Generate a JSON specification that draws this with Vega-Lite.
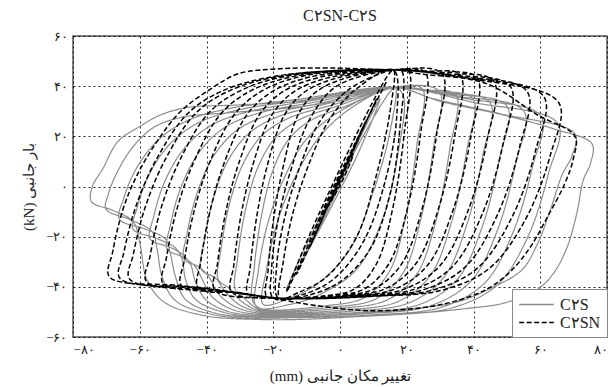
{
"$schema": "https://vega.github.io/schema/vega-lite/v6.json",
"width": 534, "height": 301,
"autosize": {"type": "none"},
"padding": {"left": 73, "top": 36, "right": 4, "bottom": 50},
"background": "white",
"title": {"text": "C۲SN-C۲S", "font": "Liberation Serif", "fontSize": 16, "fontWeight": "normal", "color": "#222", "offset": 6},
"config": {
  "view": {"stroke": "#555", "strokeWidth": 1.5},
  "axis": {"grid": true, "gridColor": "#000", "gridDash": [2, 3], "gridWidth": 1, "gridOpacity": 0.85, "domain": false, "ticks": false,
    "labelFont": "Liberation Serif", "labelFontSize": 13, "labelColor": "#222",
    "titleFont": "Liberation Serif", "titleFontSize": 15, "titleFontWeight": "normal", "titleColor": "#222"},
  "legend": {"title": null, "orient": "bottom-right", "offset": 0, "padding": 6, "strokeColor": "#888", "fillColor": "white",
    "labelFont": "Liberation Serif", "labelFontSize": 16, "labelColor": "#222", "symbolType": "M-2,0H2", "symbolSize": 300,
    "symbolStrokeWidth": 1.5, "rowPadding": 0, "symbolOffset": 9, "labelOffset": 14}
},
"layer": [
{
"data": {"values": [
{"x":-1,"y":1},{"x":4,"y":15},{"x":1,"y":4},{"x":-6,"y":-13},{"x":-2,"y":-2},{"x":8,"y":27},{"x":2.5,"y":8},{"x":-11,"y":-29},{"x":-4,"y":-8},{"x":12,"y":35},{"x":5,"y":12},{"x":-16,"y":-41},{"x":-7,"y":-15},{"x":16.5,"y":39.5},
{"x":15,"y":22},{"x":10,"y":-2},{"x":3,"y":-25},{"x":-7,"y":-39},{"x":-16,"y":-45},{"x":-23,"y":-47},{"x":-22,"y":-33},{"x":-18.5,"y":-13},{"x":-13,"y":5},{"x":-6,"y":20},{"x":3,"y":31},{"x":16.5,"y":39.5},
{"x":19,"y":36},{"x":17.5,"y":14},{"x":13,"y":-12},{"x":5,"y":-33},{"x":-6,"y":-43},{"x":-15,"y":-47},{"x":-25,"y":-48},{"x":-24.5,"y":-34},{"x":-21.5,"y":-14},{"x":-16.5,"y":4},{"x":-10,"y":19},{"x":0,"y":30},{"x":16.5,"y":39.5},
{"x":24.6,"y":39},{"x":23.1,"y":17.1},{"x":19.7,"y":-11.8},{"x":14.9,"y":-33.6},{"x":7.6,"y":-44.1},{"x":-4.6,"y":-47.6},{"x":-24,"y":-48.5},{"x":-26.3,"y":-45},{"x":-25.7,"y":-32.3},{"x":-23.7,"y":-12.9},{"x":-20.3,"y":5.7},{"x":-15.6,"y":18.4},{"x":-9.2,"y":26},{"x":1.5,"y":31.9},{"x":16.5,"y":39.5},
{"x":29.7,"y":38},{"x":28.1,"y":16.3},{"x":24.3,"y":-12.5},{"x":19,"y":-34.2},{"x":10.9,"y":-44.7},{"x":-2.5,"y":-48.1},{"x":-24,"y":-49},{"x":-28.3,"y":-45},{"x":-31.4,"y":-41},{"x":-30.7,"y":-28.9},{"x":-28.5,"y":-10.4},{"x":-24.7,"y":7.3},{"x":-19.4,"y":19.4},{"x":-12.2,"y":26.6},{"x":-0.3,"y":32.3},{"x":16.5,"y":39.5},
{"x":26,"y":38.5},{"x":34.7,"y":36.5},{"x":32.9,"y":15},{"x":28.8,"y":-13.4},{"x":23,"y":-34.9},{"x":14.2,"y":-45.2},{"x":-0.5,"y":-48.6},{"x":-24,"y":-49.5},{"x":-29.3,"y":-46},{"x":-33.3,"y":-40.5},{"x":-36.5,"y":-37},{"x":-35.7,"y":-25.5},{"x":-33.3,"y":-7.9},{"x":-29.1,"y":8.9},{"x":-23.3,"y":20.4},{"x":-15.3,"y":27.3},{"x":-2,"y":32.6},{"x":16.5,"y":39.5},
{"x":28,"y":38},{"x":39.8,"y":35},{"x":37.9,"y":13.8},{"x":33.4,"y":-14.3},{"x":27,"y":-35.6},{"x":17.5,"y":-45.8},{"x":1.5,"y":-49.2},{"x":-24,"y":-50},{"x":-30.3,"y":-47},{"x":-34.3,"y":-42},{"x":-37.3,"y":-36.5},{"x":-41.6,"y":-33},{"x":-40.7,"y":-22.1},{"x":-38.1,"y":-5.5},{"x":-33.5,"y":10.5},{"x":-27.1,"y":21.4},{"x":-18.4,"y":27.9},{"x":-3.8,"y":33},{"x":16.5,"y":39.5},
{"x":30,"y":37.5},{"x":44.9,"y":33.5},{"x":42.8,"y":12.5},{"x":38,"y":-15.2},{"x":31.1,"y":-36.2},{"x":20.8,"y":-46.3},{"x":3.6,"y":-49.7},{"x":-24,"y":-50.5},{"x":-31.3,"y":-48},{"x":-36.3,"y":-43},{"x":-39.3,"y":-36},{"x":-42.3,"y":-32},{"x":-46.7,"y":-29},{"x":-45.8,"y":-18.7},{"x":-42.9,"y":-3},{"x":-37.9,"y":12.1},{"x":-30.9,"y":22.4},{"x":-21.4,"y":28.5},{"x":-5.6,"y":33.3},{"x":16.5,"y":39.5},
{"x":32,"y":37},{"x":50,"y":32},{"x":47.8,"y":11.3},{"x":42.6,"y":-16.1},{"x":35.2,"y":-36.9},{"x":24.1,"y":-46.9},{"x":5.6,"y":-50.2},{"x":-24,"y":-51},{"x":-32.3,"y":-49},{"x":-38.3,"y":-44},{"x":-41.3,"y":-37},{"x":-43.3,"y":-32},{"x":-47.3,"y":-28},{"x":-51.8,"y":-25},{"x":-50.8,"y":-15.3},{"x":-47.7,"y":-0.5},{"x":-42.2,"y":13.7},{"x":-34.7,"y":23.4},{"x":-24.5,"y":29.2},{"x":-7.4,"y":33.7},{"x":16.5,"y":39.5},
{"x":35,"y":36},{"x":55.1,"y":30},{"x":52.7,"y":9.6},{"x":47.2,"y":-17.3},{"x":39.3,"y":-37.6},{"x":27.4,"y":-47.4},{"x":7.6,"y":-50.7},{"x":-24,"y":-51.5},{"x":-34.3,"y":-49.5},{"x":-40.3,"y":-45},{"x":-43.3,"y":-38},{"x":-44.8,"y":-31},{"x":-47.3,"y":-27},{"x":-51.3,"y":-24},{"x":-56.9,"y":-21},{"x":-55.8,"y":-11.9},{"x":-52.5,"y":2},{"x":-46.6,"y":15.3},{"x":-38.6,"y":24.4},{"x":-27.5,"y":29.8},{"x":-9.2,"y":34.1},{"x":16.5,"y":39.5},
{"x":38,"y":35},{"x":60.2,"y":28},{"x":57.7,"y":8},{"x":51.8,"y":-18.4},{"x":43.4,"y":-38.4},{"x":30.7,"y":-48},{"x":9.7,"y":-51.2},{"x":-24,"y":-52},{"x":-35.3,"y":-50},{"x":-43.3,"y":-45},{"x":-46.3,"y":-37},{"x":-47.3,"y":-29},{"x":-49.3,"y":-24.5},{"x":-55.3,"y":-20.5},{"x":-62,"y":-17},{"x":-60.8,"y":-8.5},{"x":-57.3,"y":4.5},{"x":-51,"y":16.9},{"x":-42.4,"y":25.4},{"x":-30.6,"y":30.5},{"x":-11,"y":34.4},{"x":16.5,"y":39.5},
{"x":40,"y":33.5},{"x":65.3,"y":25},{"x":62.6,"y":5.8},{"x":56.4,"y":-19.7},{"x":47.4,"y":-38.9},{"x":34,"y":-48.2},{"x":11.7,"y":-51.2},{"x":-24,"y":-52},{"x":-37.3,"y":-50.5},{"x":-46.3,"y":-45},{"x":-49.3,"y":-36},{"x":-50.8,"y":-27},{"x":-52.3,"y":-21},{"x":-58.3,"y":-17},{"x":-66.1,"y":-13},{"x":-64.9,"y":-5.1},{"x":-61.1,"y":7},{"x":-54.5,"y":18.5},{"x":-45.5,"y":26.4},{"x":-33.1,"y":31.1},{"x":-12.4,"y":34.8},{"x":16.5,"y":39.5},
{"x":28,"y":35},{"x":48,"y":29},{"x":70.4,"y":21},{"x":69.5,"y":12.2},{"x":66.6,"y":4.8},{"x":62.9,"y":-9.9},{"x":59.1,"y":-23.1},{"x":54.4,"y":-33.4},{"x":44.9,"y":-40.7},{"x":35.5,"y":-45.9},{"x":21.3,"y":-48.8},{"x":2.4,"y":-51},{"x":-24,"y":-52.5},{"x":-38.3,"y":-51},{"x":-49.3,"y":-45.5},{"x":-53.3,"y":-36},{"x":-54.8,"y":-25},{"x":-56.3,"y":-18},{"x":-62.3,"y":-13.5},{"x":-70.1,"y":-9},{"x":-69.4,"y":-3},{"x":-67,"y":5},{"x":-62.5,"y":15},{"x":-55.9,"y":23.5},{"x":-47.7,"y":27.5},{"x":-32.4,"y":29.5},{"x":-14.1,"y":31.5},{"x":3.2,"y":35},{"x":16.5,"y":39.5},
{"x":30,"y":34},{"x":49,"y":28.5},{"x":64,"y":23},{"x":75.5,"y":17},{"x":75,"y":9},{"x":72.9,"y":2.6},{"x":70.9,"y":-11},{"x":68.1,"y":-24},{"x":64.3,"y":-34},{"x":59.2,"y":-41},{"x":49,"y":-46.5},{"x":38.8,"y":-48.5},{"x":23.5,"y":-50.5},{"x":3.2,"y":-52},{"x":-12.1,"y":-53},{"x":-24.3,"y":-53},{"x":-40.6,"y":-51.5},{"x":-52.8,"y":-46},{"x":-57.9,"y":-37},{"x":-59.9,"y":-23},{"x":-62,"y":-14},{"x":-68.1,"y":-9.5},{"x":-74.5,"y":-6},{"x":-74.2,"y":0},{"x":-71.1,"y":7},{"x":-66.5,"y":18},{"x":-59.9,"y":24},{"x":-53.8,"y":28.5},{"x":-45.7,"y":31.5},{"x":-30.4,"y":32.5},{"x":-12.1,"y":34},{"x":3.2,"y":37},{"x":16.5,"y":39.5}
]},
"mark": {"type": "line", "interpolate": "catmull-rom", "strokeWidth": 1.2, "clip": true},
"encoding": {
  "x": {"field": "x", "type": "quantitative", "scale": {"domain": [-80, 80], "nice": false, "zero": false},
    "axis": {"values": [-80, -60, -40, -20, 0, 20, 40, 60, 80], "title": "(mm) تغییر مکان جانبی", "titlePadding": 12, "labelPadding": 6,
      "labelExpr": "replace(replace(replace(replace(replace(replace(toString(datum.value),'-','−'),'0','۰'),'2','۲'),'4','۴'),'6','۶'),'8','۸')"}},
  "y": {"field": "y", "type": "quantitative", "scale": {"domain": [-60, 60], "nice": false, "zero": false},
    "axis": {"values": [-60, -40, -20, 0, 20, 40, 60], "title": "(kN) بار جانبی", "titlePadding": 9, "labelPadding": 6,
      "labelExpr": "replace(replace(replace(replace(replace(replace(toString(datum.value),'-','−'),'0','۰'),'2','۲'),'4','۴'),'6','۶'),'8','۸')"}},
  "order": {"value": null},
  "color": {"datum": "C۲S", "type": "nominal", "scale": {"domain": ["C۲S", "C۲SN"], "range": ["#8c8c8c", "#000000"]}},
  "strokeDash": {"datum": "C۲S", "type": "nominal", "scale": {"domain": ["C۲S", "C۲SN"], "range": [[1, 0], [5, 2.5]]}}
}
},
{
"data": {"values": [
{"x":-1,"y":1},{"x":4,"y":13},{"x":1,"y":3},{"x":-5,"y":-11},{"x":-1,"y":-1},{"x":7,"y":24},{"x":1,"y":6},{"x":-9,"y":-24},{"x":-2,"y":-3},{"x":11,"y":35},{"x":2,"y":9},{"x":-13,"y":-35},{"x":-4,"y":-6},{"x":14,"y":42},{"x":3,"y":13},{"x":-16,"y":-42},{"x":-6,"y":-10},{"x":16,"y":46.5},
{"x":15,"y":30},{"x":11,"y":5},{"x":5,"y":-20},{"x":-4,"y":-36},{"x":-12,"y":-42},{"x":-18,"y":-44.5},{"x":-17,"y":-30},{"x":-14,"y":-10},{"x":-9,"y":10},{"x":-3,"y":27},{"x":5,"y":39},{"x":16,"y":46.5},
{"x":17,"y":28},{"x":13.5,"y":2},{"x":7,"y":-22},{"x":-2,"y":-37},{"x":-11,"y":-43},{"x":-18.5,"y":-44.5},{"x":-19,"y":-32},{"x":-16.5,"y":-12},{"x":-12,"y":8},{"x":-6,"y":26},{"x":3,"y":39},{"x":16,"y":46.5},
{"x":18.5,"y":46},{"x":18,"y":24},{"x":15,"y":-3},{"x":9,"y":-25},{"x":0,"y":-38},{"x":-10,"y":-43.5},{"x":-20,"y":-44.5},{"x":-20.5,"y":-33},{"x":-18.5,"y":-13},{"x":-14.5,"y":7.5},{"x":-9,"y":27},{"x":-1,"y":40},{"x":16,"y":46.5},
{"x":20.5,"y":46},{"x":19.3,"y":21.9},{"x":15.9,"y":-8.1},{"x":10.9,"y":-30.9},{"x":4.3,"y":-40.9},{"x":-4.5,"y":-43.6},{"x":-18,"y":-44.5},{"x":-22,"y":-43.8},{"x":-21.5,"y":-32.9},{"x":-19.9,"y":-12.9},{"x":-17,"y":8},{"x":-12.8,"y":27.9},{"x":-7.8,"y":37},{"x":0,"y":42.5},{"x":16,"y":46.5},
{"x":25.5,"y":45.5},{"x":24.2,"y":21.6},{"x":20.3,"y":-8.3},{"x":14.6,"y":-30.9},{"x":7.2,"y":-40.9},{"x":-2.8,"y":-43.6},{"x":-18,"y":-44.5},{"x":-27.5,"y":-43},{"x":-26.9,"y":-32.2},{"x":-25,"y":-12.4},{"x":-21.8,"y":8.3},{"x":-16.8,"y":28.1},{"x":-11.1,"y":37.2},{"x":-2.1,"y":42.8},{"x":16,"y":46.5},
{"x":30.5,"y":45},{"x":29,"y":21.2},{"x":24.7,"y":-8.5},{"x":18.4,"y":-31},{"x":10.1,"y":-40.9},{"x":-1,"y":-43.6},{"x":-18,"y":-44.5},{"x":-32.5,"y":-42},{"x":-31.8,"y":-31.3},{"x":-29.7,"y":-11.7},{"x":-26.1,"y":8.7},{"x":-20.5,"y":28.3},{"x":-14.1,"y":37.5},{"x":-4,"y":43.2},{"x":16,"y":46.5},
{"x":26,"y":46},{"x":36,"y":44.5},{"x":34.4,"y":20.5},{"x":29.5,"y":-8.9},{"x":22.5,"y":-31.2},{"x":13.3,"y":-40.9},{"x":0.9,"y":-43.6},{"x":-18,"y":-44.5},{"x":-37.5,"y":-41.3},{"x":-36.7,"y":-30.7},{"x":-34.4,"y":-11.3},{"x":-30.4,"y":9},{"x":-24.2,"y":28.5},{"x":-17.1,"y":37.8},{"x":-5.9,"y":43.6},{"x":16,"y":46.5},
{"x":28,"y":45.5},{"x":41,"y":43.5},{"x":39.2,"y":19.7},{"x":33.9,"y":-9.3},{"x":26.3,"y":-31.3},{"x":16.2,"y":-41},{"x":2.7,"y":-43.6},{"x":-18,"y":-44.5},{"x":-30,"y":-42.4},{"x":-42.5,"y":-40.4},{"x":-41.7,"y":-29.9},{"x":-39.1,"y":-10.7},{"x":-34.7,"y":9.4},{"x":-27.9,"y":28.6},{"x":-20.1,"y":38},{"x":-7.8,"y":44},{"x":16,"y":46.5},
{"x":30,"y":45},{"x":46,"y":42},{"x":44.1,"y":18.6},{"x":38.3,"y":-9.9},{"x":30,"y":-31.5},{"x":19.1,"y":-41},{"x":4.4,"y":-43.6},{"x":-18,"y":-44.5},{"x":-32,"y":-42},{"x":-47.5,"y":-39.6},{"x":-46.6,"y":-29.2},{"x":-43.8,"y":-10.2},{"x":-39,"y":9.8},{"x":-31.6,"y":28.8},{"x":-23.1,"y":38.3},{"x":-9.7,"y":44.4},{"x":16,"y":46.5},
{"x":32,"y":44.5},{"x":51,"y":40},{"x":48.9,"y":17.2},{"x":42.7,"y":-10.7},{"x":33.8,"y":-31.8},{"x":22,"y":-41.1},{"x":6.2,"y":-43.7},{"x":-18,"y":-44.5},{"x":-35,"y":-41.6},{"x":-53,"y":-38.7},{"x":-52,"y":-28.4},{"x":-49,"y":-9.6},{"x":-43.7,"y":10.1},{"x":-35.7,"y":29},{"x":-26.4,"y":38.4},{"x":-11.8,"y":44.4},{"x":16,"y":46.5},
{"x":34,"y":44},{"x":56,"y":38},{"x":53.8,"y":15.7},{"x":47.1,"y":-11.5},{"x":37.5,"y":-32.1},{"x":24.9,"y":-41.2},{"x":7.9,"y":-43.7},{"x":-18,"y":-44.5},{"x":-37,"y":-41.2},{"x":-58,"y":-37.9},{"x":-56.9,"y":-27.7},{"x":-53.7,"y":-9},{"x":-48,"y":10.5},{"x":-39.4,"y":29.2},{"x":-29.4,"y":38.5},{"x":-13.7,"y":44.5},{"x":16,"y":46.5},
{"x":37,"y":43.5},{"x":61,"y":36},{"x":58.6,"y":14.3},{"x":51.5,"y":-12.3},{"x":41.3,"y":-32.4},{"x":27.8,"y":-41.3},{"x":9.7,"y":-43.7},{"x":-18,"y":-44.5},{"x":-40,"y":-40.7},{"x":-63,"y":-37},{"x":-61.9,"y":-26.9},{"x":-58.4,"y":-8.4},{"x":-52.3,"y":10.9},{"x":-43.1,"y":29.4},{"x":-32.4,"y":38.6},{"x":-15.6,"y":44.5},{"x":16,"y":46.5},
{"x":39,"y":43},{"x":65.5,"y":33.5},{"x":63,"y":12.4},{"x":55.5,"y":-13.3},{"x":44.6,"y":-32.8},{"x":30.4,"y":-41.4},{"x":11.2,"y":-43.7},{"x":-18,"y":-44.5},{"x":-42,"y":-40.3},{"x":-66,"y":-36.5},{"x":-64.8,"y":-26.5},{"x":-61.2,"y":-8.1},{"x":-54.9,"y":11.1},{"x":-45.3,"y":29.5},{"x":-34.2,"y":38.7},{"x":-16.7,"y":44.5},{"x":16,"y":46.5},
{"x":23.5,"y":45},{"x":43.9,"y":41},{"x":59.2,"y":28.5},{"x":70.4,"y":20},{"x":69.9,"y":11},{"x":67.3,"y":1},{"x":62.2,"y":-12},{"x":57.1,"y":-24},{"x":51,"y":-34},{"x":43.9,"y":-41},{"x":33.7,"y":-46},{"x":23.5,"y":-48.5},{"x":8.3,"y":-49.5},{"x":-7,"y":-47.5},{"x":-18.2,"y":-45},{"x":-30.4,"y":-42.3},{"x":-47.7,"y":-39.5},{"x":-69.1,"y":-36},{"x":-68.1,"y":-26},{"x":-65,"y":-9},{"x":-61,"y":4},{"x":-54.8,"y":18},{"x":-47.7,"y":30},{"x":-38.6,"y":39},{"x":-30.4,"y":45},{"x":-17.2,"y":47},{"x":-1.9,"y":47.2},{"x":16,"y":46.5}
]},
"mark": {"type": "line", "interpolate": "catmull-rom", "strokeWidth": 1.5, "clip": true},
"encoding": {
  "x": {"field": "x", "type": "quantitative"},
  "y": {"field": "y", "type": "quantitative"},
  "order": {"value": null},
  "color": {"datum": "C۲SN", "type": "nominal"},
  "strokeDash": {"datum": "C۲SN", "type": "nominal"}
}
}
]
}
